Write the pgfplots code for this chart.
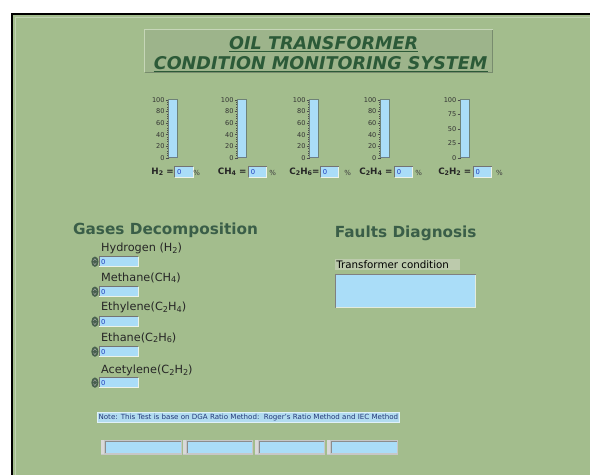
\documentclass[border=0pt]{standalone}
\usepackage{pgfplots}
\pgfplotsset{compat=1.18}
\usetikzlibrary{calc}
\usepackage{fontspec}
\setmainfont{DejaVu Sans}
\definecolor{bg}{RGB}{163,189,141}
\definecolor{hilite}{RGB}{192,210,178}
\definecolor{fieldblue}{RGB}{170,221,248}
\definecolor{titlecol}{RGB}{44,90,56}
\definecolor{headcol}{RGB}{58,94,72}
\definecolor{titlebox}{RGB}{157,180,139}
\definecolor{tboxlight}{RGB}{198,214,184}
\definecolor{tboxdark}{RGB}{120,140,110}
\definecolor{tankedge}{RGB}{110,130,120}
\definecolor{knob}{RGB}{72,96,78}
\definecolor{labbox}{RGB}{188,202,172}
\definecolor{numblue}{RGB}{30,60,190}
\definecolor{notecol}{RGB}{35,55,120}
\definecolor{noteblue}{RGB}{178,220,240}
\pgfplotsset{gauge/.style={scale only axis, width=9pt, height=58pt, anchor=south west,
  xmin=0, xmax=1, ymin=0, ymax=100, xtick=\empty, ytick pos=left, tick align=outside,
  axis background/.style={fill=fieldblue},
  axis line style={draw=tankedge, line width=0.9pt},
  yticklabel style={font=\fontsize{6.6}{7}\selectfont, text=black!80, inner sep=1pt},
  /pgf/number format/assume math mode=true,
  major tick length=3pt, minor tick length=1.6pt,
  tick style={black!70, line width=0.4pt}}}
\newcommand{\numfield}[3]{% x1, x2, ycenter
  \fill[fieldblue] (#1,#3-5) rectangle (#2,#3+5);
  \draw[black!55, line width=0.8pt] (#1,#3+5) -- (#1,#3-5) -- (#2,#3-5);
  \draw[white!80!bg, line width=0.6pt] (#1,#3+5) -- (#2,#3+5) -- (#2,#3-5);
  \node[anchor=west, inner sep=0pt, text=numblue, font=\fontsize{6.8}{7}\selectfont] at (#1+2,#3) {0};}
\newcommand{\sub}[1]{\raisebox{-0.25ex}{\scalebox{0.72}{#1}}}
\begin{document}
\begin{tikzpicture}
\begin{axis}[name=main, at={(0,0)}, anchor=north west, scale only axis,
  width=591pt, height=475pt, xmin=0, xmax=591, ymin=0, ymax=475, y dir=reverse,
  hide axis, clip=false]
\end{axis}
\begin{scope}[x=1pt, y=-1pt]
\fill[white] (0,0) rectangle (591,475);
\fill[black] (11,13) rectangle (591,475);
\fill[bg] (13,15) rectangle (591,475);
\draw[hilite, line width=1.2pt] (15.5,475) -- (15.5,17.5) -- (591,17.5);
% title box
\fill[titlebox] (145,30) rectangle (493,72);
\draw[tboxlight, line width=1pt] (145,72) -- (145,30) -- (493,30);
\draw[tboxdark, line width=0.8pt] (145,72) -- (493,72) -- (493,30);
\node[text=titlecol, font=\bfseries\itshape\fontsize{17.6}{19}\selectfont, inner sep=0pt] (t1) at (324,43) {OIL TRANSFORMER};
\draw[titlecol, line width=1pt] ($(t1.south west)+(0,1.5)$) -- ($(t1.south east)+(0,1.5)$);
\node[text=titlecol, font=\bfseries\itshape\fontsize{17.6}{19}\selectfont, inner sep=0pt] (t2) at (321,63) {CONDITION MONITORING SYSTEM};
\draw[titlecol, line width=1pt] ($(t2.south west)+(0,1.5)$) -- ($(t2.south east)+(0,1.5)$);
% gauge labels row
\foreach \lx/\bx/\px/\lab in {174/175/197/{H\sub{2} =}, 247/249/273/{CH\sub{4} =}, 320/321/348/{C\sub{2}H\sub{6}=}, 393/395/419/{C\sub{2}H\sub{4} =}, 472/474/500/{C\sub{2}H\sub{2} =}}{
  \node[anchor=east, inner sep=0pt, text=black!85, font=\bfseries\fontsize{8.8}{9}\selectfont] at (\lx,172) {\lab};
  \numfield{\bx}{\bx+18}{172}
  \node[inner sep=0pt, text=black!75, font=\fontsize{7}{7}\selectfont] at (\px,173) {\%};
}
% gases decomposition
\node[anchor=west, inner sep=0pt, text=headcol, font=\bfseries\fontsize{15.3}{17}\selectfont] at (73,231) {Gases Decomposition};
\foreach \ly/\fy/\lab in {249/262/{Hydrogen (H\sub{2})}, 278/292/{Methane(CH\sub{4})}, 308/322/{Ethylene(C\sub{2}H\sub{4})}, 338/352/{Ethane(C\sub{2}H\sub{6})}, 371/383/{Acetylene(C\sub{2}H\sub{2})}}{
  \node[anchor=west, inner sep=0pt, text=black!85, font=\fontsize{11.3}{12}\selectfont] at (101,\ly) {\lab};
  \numfield{99}{138}{\fy}
  \fill[knob] (95,\fy) ellipse [x radius=3.6, y radius=5.2];
  \draw[black!30, line width=0.4pt] (93.5,\fy-1) -- (95,\fy-3) -- (96.5,\fy-1) (93.5,\fy+1) -- (95,\fy+3) -- (96.5,\fy+1);
}
% faults diagnosis
\node[anchor=west, inner sep=0pt, text=headcol, font=\bfseries\fontsize{15.3}{17}\selectfont] at (335,234) {Faults Diagnosis};
\fill[labbox] (335,259.5) rectangle (460,270.5);
\node[anchor=west, inner sep=0pt, text=black, font=\fontsize{10.3}{11}\selectfont] at (336.5,265) {Transformer condition};
\fill[fieldblue] (336,275) rectangle (476,308);
\draw[black!50, line width=1pt] (336,308) -- (336,275) -- (476,275);
\draw[white!70!bg, line width=1pt] (336,308) -- (476,308) -- (476,275);
% note
\fill[noteblue] (97,413) rectangle (400,422.5);
\draw[white!60!noteblue, line width=0.5pt] (97,413) rectangle (400,422.5);
\node[anchor=west, inner sep=0pt, text=notecol, font=\fontsize{7.1}{8}\selectfont] at (98.5,418) {Note: This Test is base on DGA Ratio Method:\ \ Roger's Ratio Method and IEC Method};
% bottom boxes
\foreach \xa/\xb in {101/182, 183/253, 255/325, 327/398}{
  \fill[black!22] (\xa,440) rectangle (\xb,455);
  \fill[white!85!black] (\xa+0.5,440.5) rectangle (\xa+3.5,454.5);
  \fill[fieldblue] (\xa+4.5,442) rectangle (\xb-1,453.5);
  \draw[black!45, line width=0.6pt] (\xa+4.5,453.5) -- (\xa+4.5,442) -- (\xb-1,442);
}
\end{scope}
% gauges (level 0)
\begin{axis}[gauge, at={(169pt,-158pt)}, ytick={0,20,...,100}, minor y tick num=4]
\addplot[ybar, bar width=9pt, fill=blue!60, draw=none] coordinates {(0.5,0)};
\end{axis}
\begin{axis}[gauge, at={(238pt,-158pt)}, ytick={0,20,...,100}, minor y tick num=4]
\addplot[ybar, bar width=9pt, fill=blue!60, draw=none] coordinates {(0.5,0)};
\end{axis}
\begin{axis}[gauge, at={(310pt,-158pt)}, ytick={0,20,...,100}, minor y tick num=4]
\addplot[ybar, bar width=9pt, fill=blue!60, draw=none] coordinates {(0.5,0)};
\end{axis}
\begin{axis}[gauge, at={(381pt,-158pt)}, ytick={0,20,...,100}, minor y tick num=4]
\addplot[ybar, bar width=9pt, fill=blue!60, draw=none] coordinates {(0.5,0)};
\end{axis}
\begin{axis}[gauge, at={(461pt,-158pt)}, ytick={0,25,...,100}]
\addplot[ybar, bar width=9pt, fill=blue!60, draw=none] coordinates {(0.5,0)};
\end{axis}
\end{tikzpicture}
\end{document}
